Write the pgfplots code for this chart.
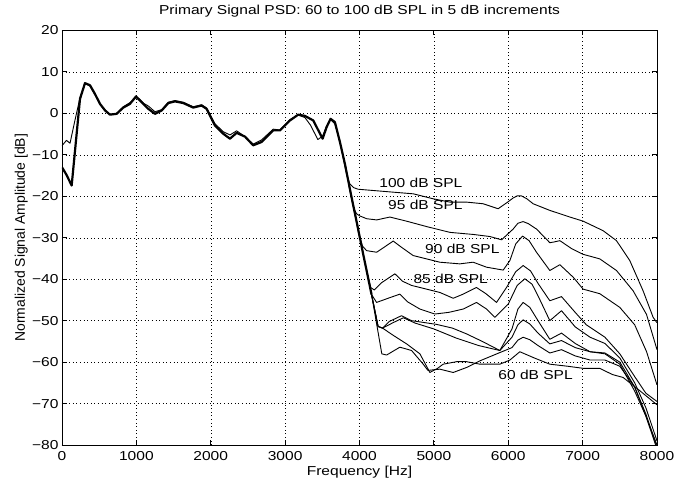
\documentclass[border=0pt]{standalone}
\usepackage{fontspec}
\setmainfont{Liberation Sans}[FakeStretch=1.2]
\newfontfamily\ylabfont{Liberation Sans}
\usepackage{pgfplots}
\pgfplotsset{compat=1.18}
\begin{document}
\begin{tikzpicture}
\begin{axis}[
  scale only axis, width=595bp, height=414.5bp,
  xmin=0, xmax=8000, ymin=-80, ymax=20,
  xtick={0,1000,...,8000},
  xticklabels={0,1000,2000,3000,4000,5000,6000,7000,8000},
  ytick={-80,-70,...,20},
  yticklabels={−80,−70,−60,−50,−40,−30,−20,−10,0,10,20},
  tick align=inside, major tick length=5bp, tick pos=both,
  grid=major,
  major grid style={black, line width=0.5bp, dash pattern=on 0.8bp off 2.8bp},
  axis line style={line width=0.9bp},
  tick style={line width=0.9bp, black},
  ticklabel style={font=\fontsize{13}{15}\selectfont},
  xticklabel style={yshift=-3bp},
  every axis title shift=0pt,
  title={Primary Signal PSD: 60 to 100 dB SPL in 5 dB increments},
  title style={font=\fontsize{13}{15}\selectfont, at={(axis description cs:0.5,1.0374)}, anchor=base},
  xlabel={Frequency [Hz]},
  xlabel style={font=\fontsize{13}{15}\selectfont, at={(axis description cs:0.5,-0.0724)}, anchor=base},
  ylabel={Normalized Signal Amplitude [dB]},
  ylabel style={font=\ylabfont\fontsize{14}{16}\selectfont, at={(axis description cs:-0.0622,0.5)}, anchor=base},
  every axis plot/.append style={black, line join=round},
]
\coordinate (ll) at (rel axis cs:0,0);
\coordinate (ur) at (rel axis cs:1,1);
% common bundle (low frequencies)
\addplot[line width=2.2bp] table {
x y
0 -13.0
60 -14.8
130 -17.4
242 3.5
309 7.3
376 6.8
440 4.8
511 2.3
580 0.7
645 -0.3
735 -0.1
824 1.4
914 2.3
995 4.1
1070 2.7
1160 1.1
1250 -0.1
1340 0.7
1430 2.5
1519 2.9
1630 2.5
1765 1.4
1877 1.9
1944 1.1
2056 -2.9
2168 -4.9
2258 -6.1
2348 -4.7
2460 -5.6
2571 -7.7
2683 -6.9
2840 -4.1
2930 -4.1
3065 -1.7
3176 -0.3
3266 -0.6
3378 -1.7
3504 -6.1
3558 -3.3
3611 -1.3
3669 -2.1
3737 -6.9
3804 -12.2
3893 -20.2
3961 -26.1
4050 -34.0
4100 -38.3
4162 -43.7
};
% 100 dB SPL, full curve
\addplot[line width=0.9bp] table {
x y
0 -7.8
60 -6.5
108 -7.2
170 -2.0
242 3.8
309 7.2
376 6.6
440 4.6
511 2.2
580 0.6
645 -0.2
735 0.0
824 1.6
914 2.6
995 3.8
1040 3.5
1100 2.4
1160 1.8
1250 0.4
1340 0.9
1430 2.7
1519 3.1
1630 2.7
1765 1.6
1877 2.1
1944 1.3
2056 -2.5
2168 -4.4
2258 -5.2
2348 -4.2
2460 -5.6
2571 -7.4
2683 -6.4
2840 -3.8
2930 -4.0
3065 -1.5
3176 -0.4
3266 -1.0
3340 -2.8
3440 -6.3
3504 -5.5
3558 -3.0
3611 -1.5
3669 -2.5
3737 -6.9
3790 -11.5
3830 -15.0
3870 -17.0
3920 -17.9
3983 -18.3
4184 -18.6
4453 -19.0
4722 -19.4
4991 -20.6
5215 -21.4
5439 -21.4
5663 -21.8
5864 -23.0
6000 -21.3
6066 -20.4
6120 -19.9
6178 -19.9
6250 -20.6
6335 -21.8
6559 -23.4
6828 -25.0
7007 -26.0
7276 -28.3
7455 -30.7
7634 -35.5
7813 -42.8
7948 -49.2
8000 -50.5
};
% 95 dB SPL
\addplot[line width=0.9bp] table {
x y
3737 -6.9
3804 -12.2
3860 -17.5
3916 -22.6
3960 -24.2
4000 -24.7
4095 -25.4
4230 -25.7
4409 -25.0
4633 -26.0
4902 -27.3
5215 -28.7
5528 -29.2
5753 -29.7
5910 -30.5
6066 -27.9
6130 -26.5
6200 -26.1
6270 -26.6
6380 -27.9
6559 -31.2
6620 -31.0
6694 -30.7
6850 -32.6
7007 -34.0
7231 -35.1
7455 -37.9
7679 -42.8
7859 -48.5
8000 -57.0
};
% 90 dB SPL
\addplot[line width=0.9bp] table {
x y
3804 -12.2
3893 -20.2
3940 -24.5
3990 -29.0
4040 -32.0
4095 -33.1
4230 -33.5
4330 -32.3
4453 -30.8
4565 -32.3
4722 -34.3
4901 -35.1
5081 -35.9
5349 -36.3
5528 -35.9
5708 -37.1
5932 -37.8
6022 -35.5
6100 -31.5
6192 -29.6
6280 -30.7
6380 -33.5
6559 -37.9
6694 -36.5
6872 -39.5
7007 -42.4
7231 -43.5
7500 -46.8
7700 -51.0
7860 -57.5
8000 -65.5
};
% 85 dB SPL
\addplot[line width=0.9bp] table {
x y
4100 -38.3
4150 -42.0
4200 -42.6
4300 -40.8
4476 -38.7
4580 -40.5
4700 -41.5
5081 -43.2
5260 -44.6
5394 -43.6
5573 -42.0
5700 -43.5
5843 -45.6
5977 -42.0
6100 -38.2
6200 -36.7
6300 -38.0
6400 -41.0
6559 -45.2
6716 -44.2
6900 -48.0
7050 -51.0
7300 -54.0
7500 -58.0
7700 -63.5
7850 -67.5
8000 -69.5
};
% 80 dB SPL
\addplot[line width=0.9bp] table {
x y
4100 -38.3
4162 -43.7
4230 -45.6
4400 -44.5
4543 -43.6
4650 -45.5
4812 -47.2
5013 -48.4
5200 -48.0
5394 -47.2
5573 -45.6
5708 -47.2
5820 -49.2
6000 -46.0
6120 -41.5
6223 -39.9
6320 -41.2
6400 -44.0
6559 -50.0
6716 -47.6
6900 -51.5
7100 -54.0
7300 -55.5
7500 -59.0
7700 -65.0
7850 -71.0
8000 -79.0
};
% 75 dB SPL
\addplot[line width=0.9bp] table {
x y
4162 -43.7
4250 -51.4
4310 -51.8
4400 -50.2
4565 -48.8
4700 -50.0
5036 -50.9
5250 -51.8
5440 -53.2
5650 -55.0
5887 -57.2
6050 -52.0
6130 -47.2
6200 -45.6
6290 -46.8
6400 -50.0
6559 -54.5
6716 -53.0
6900 -55.5
7100 -57.5
7300 -58.0
7500 -60.5
7700 -67.0
7850 -73.0
8000 -80.0
};
% 70 dB SPL
\addplot[line width=0.9bp] table {
x y
4162 -43.7
4250 -51.4
4310 -51.8
4450 -50.5
4590 -49.3
4750 -50.6
5000 -52.0
5300 -54.2
5600 -56.0
5887 -57.2
6050 -54.0
6130 -51.0
6200 -49.8
6290 -50.8
6400 -53.0
6559 -55.6
6716 -54.8
6900 -56.5
7100 -57.5
7300 -57.8
7500 -60.0
7700 -66.0
7850 -72.5
8000 -80.5
};
% 65 dB SPL
\addplot[line width=0.9bp] table {
x y
4162 -43.7
4300 -58.0
4364 -58.3
4543 -56.4
4700 -57.2
4857 -60.5
4920 -62.0
5081 -61.7
5260 -62.5
5439 -61.3
5618 -59.7
5887 -57.7
6050 -56.5
6130 -54.7
6200 -54.0
6290 -54.6
6400 -56.0
6559 -57.8
6716 -57.0
6900 -58.5
7100 -59.5
7300 -59.5
7500 -61.0
7700 -66.0
7850 -73.0
8000 -81.0
};
% 60 dB SPL
\addplot[line width=0.9bp] table {
x y
4162 -43.7
4250 -51.4
4310 -51.8
4450 -53.5
4633 -55.6
4812 -58.0
4946 -62.5
5050 -61.5
5125 -60.5
5305 -59.9
5439 -59.9
5618 -60.5
5887 -60.5
6022 -59.5
6156 -57.5
6350 -59.0
6559 -60.5
6800 -61.0
7007 -61.5
7231 -61.5
7400 -63.0
7544 -63.7
7769 -66.9
8000 -70.3
};
\begin{scope}[every node/.style={font=\fontsize{13}{15}\selectfont}]
\node at (axis cs:4825,-16.7) {100 dB SPL};
\node at (axis cs:4886,-22.1) {95 dB SPL};
\node at (axis cs:5383,-32.7) {90 dB SPL};
\node at (axis cs:5226,-39.8) {85 dB SPL};
\node at (axis cs:6368,-63.1) {60 dB SPL};
\end{scope}
\end{axis}
\pgfresetboundingbox
\path[use as bounding box] ([xshift=-62bp,yshift=-37bp]ll) rectangle ([xshift=20bp,yshift=30.5bp]ur);
\end{tikzpicture}
\end{document}
